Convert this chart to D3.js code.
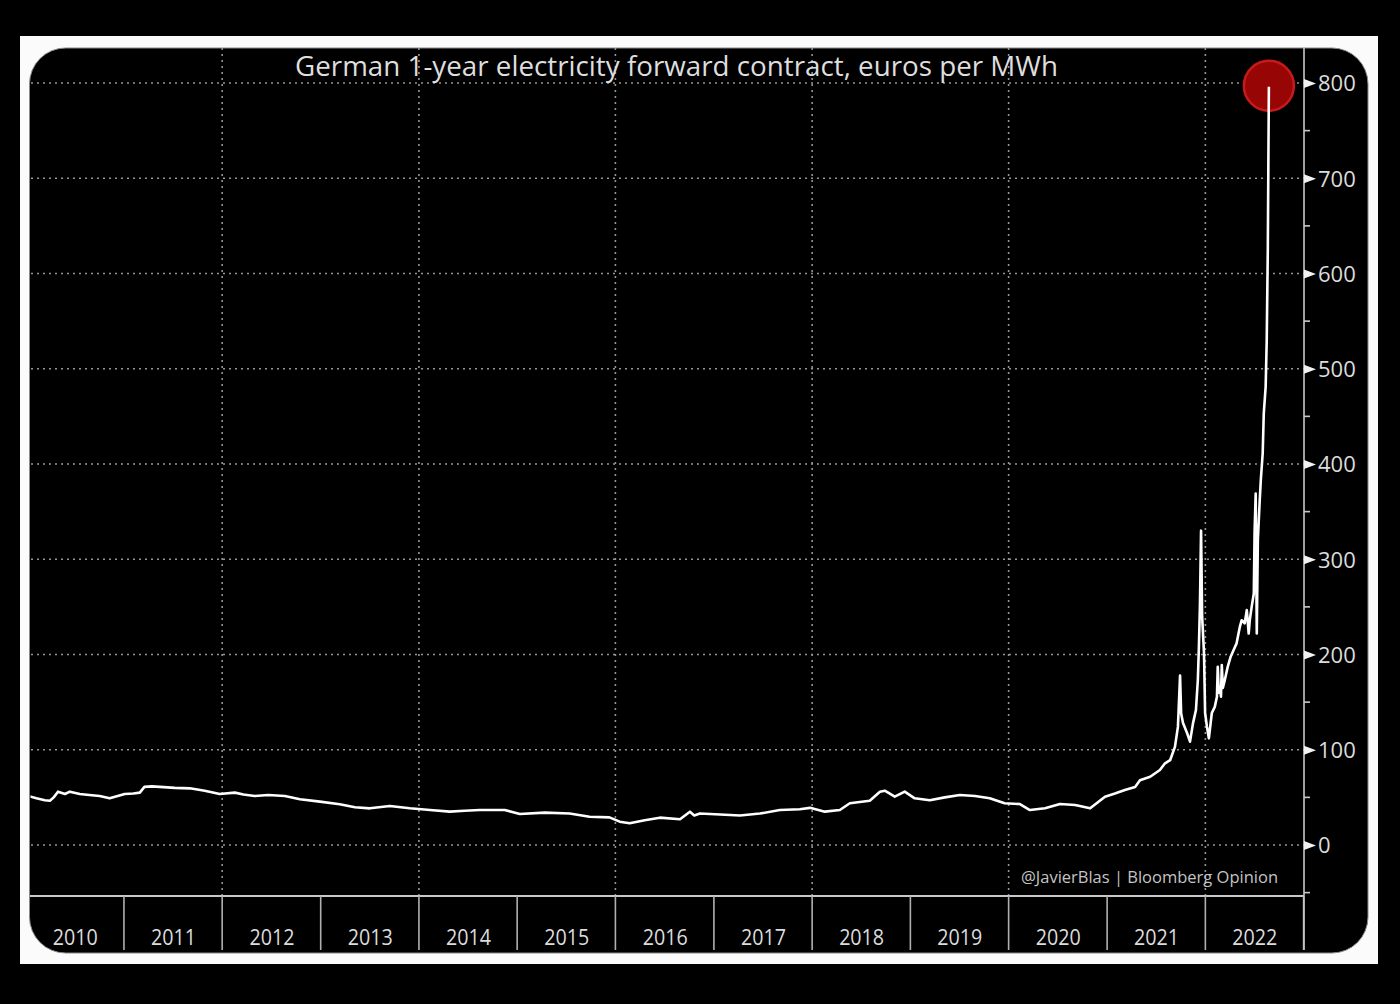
<!DOCTYPE html>
<html>
<head>
<meta charset="utf-8">
<script src="https://cdn.jsdelivr.net/npm/d3@7"></script>
<style>
  html, body { margin: 0; padding: 0; background: #000; }
  svg { display: block; }
</style>
</head>
<body>
<svg id="chart" width="1400" height="1004"></svg>
<script>
// ---------------- DATA ----------------
const titleText = "German 1-year electricity forward contract, euros per MWh";
const creditText = "@JavierBlas | Bloomberg Opinion";
const yearLabels = ["2010","2011","2012","2013","2014","2015","2016","2017","2018","2019","2020","2021","2022"];
const yTickValues = [0, 100, 200, 300, 400, 500, 600, 700, 800];
const yMinorTicks = [-50, 50, 150, 250, 350, 450, 550, 650, 750];
const gridYears = ["2012","2014","2016","2018","2020","2022"];

const dates = [
  "2010-01-04","2010-01-16","2010-02-10","2010-03-13","2010-04-01","2010-04-15","2010-05-01","2010-05-27",
  "2010-06-14","2010-07-21","2010-08-25","2010-10-03","2010-11-09","2011-01-04","2011-02-05","2011-03-01",
  "2011-03-18","2011-04-15","2011-05-14","2011-07-09","2011-09-03","2011-10-28","2011-12-23","2012-02-17",
  "2012-03-20","2012-05-01","2012-06-20","2012-08-21","2012-10-16","2012-12-29","2013-03-13","2013-05-08",
  "2013-07-03","2013-09-15","2013-11-28","2014-02-11","2014-04-26","2014-06-20","2014-08-15","2014-11-16",
  "2015-01-11","2015-04-14","2015-07-15","2015-09-27","2015-12-10","2016-01-17","2016-02-23","2016-04-19",
  "2016-06-14","2016-08-28","2016-10-04","2016-10-20","2016-11-10","2017-01-24","2017-04-08","2017-06-21",
  "2017-09-03","2017-11-16","2017-12-24","2018-02-17","2018-04-14","2018-05-21","2018-08-03","2018-09-10",
  "2018-09-28","2018-11-04","2018-12-11","2019-01-17","2019-03-14","2019-05-09","2019-07-04","2019-08-29",
  "2019-10-23","2019-12-17","2020-02-12","2020-03-20","2020-05-15","2020-07-10","2020-09-04","2020-10-30",
  "2020-12-24","2021-01-30","2021-03-08","2021-04-15","2021-05-03","2021-06-10","2021-07-16","2021-08-04",
  "2021-08-23","2021-09-10","2021-09-21","2021-09-29","2021-10-03","2021-10-10","2021-10-25","2021-11-05",
  "2021-11-16","2021-11-27","2021-12-04","2021-12-08","2021-12-12","2021-12-16","2021-12-20","2021-12-27",
  "2021-12-31","2022-01-07","2022-01-14","2022-01-25","2022-02-05","2022-02-13","2022-02-16","2022-02-20",
  "2022-02-24","2022-02-28","2022-03-03","2022-03-07","2022-03-14","2022-03-25","2022-04-05","2022-04-16",
  "2022-04-27","2022-05-09","2022-05-16","2022-05-27","2022-06-04","2022-06-11","2022-06-15","2022-06-22",
  "2022-06-30","2022-07-03","2022-07-07","2022-07-11","2022-07-15","2022-07-22","2022-07-26","2022-08-02",
  "2022-08-06","2022-08-13","2022-08-17","2022-08-21","2022-08-23","2022-08-25"
];
const values = [
  51, 51, 49, 47, 46.5, 50, 56, 53.5,
  56, 53.5, 52.5, 51.5, 49, 53.5, 54, 55,
  61, 61.5, 61, 60, 59.5, 57, 53.5, 55,
  53, 51.5, 52.5, 51.5, 48, 45.5, 42.7, 39.6,
  38.5, 41, 38.5, 36.7, 35, 36, 36.7, 36.7,
  32.5, 34, 33, 29.7, 29, 24.5, 22.8, 26,
  28.7, 27, 35, 31, 33, 32, 31, 33,
  36.7, 37.5, 39, 35, 36.7, 43.8, 46.5, 56,
  57, 50.7, 56, 49, 47, 50, 52.5, 51.5,
  49, 43.8, 43, 36.7, 38.5, 43, 42, 38.5,
  50.7, 54, 57.7, 61, 68, 71.7, 78.7, 85.8,
  89, 103, 124, 178, 138, 128, 117.6, 108.5,
  127.7, 141.7, 173, 208, 254, 330, 240, 201,
  138.6, 124, 112, 138.6, 145, 155.7, 187, 160,
  166, 155.7, 189, 165, 173, 187, 197.7, 204.7,
  211.7, 229, 236, 232.7, 246.7, 222, 236, 250,
  264, 330, 369, 222, 320, 362, 383, 411,
  453, 481, 530, 625, 712, 796
];

// ---------------- CHART ----------------
const svg = d3.select("#chart");
const parse = d3.timeParse("%Y-%m-%d");
const series = dates.map((d, i) => ({ date: parse(d), value: values[i] }));

const panel = { x: 29.5, y: 48, w: 1338.5, h: 905, r: 36 };
const plotRight = 1304, plotBottom = 896, bandBottom = 950;

const x = d3.scaleTime()
  .domain([new Date(2010, 0, 1), new Date(2023, 0, 1)])
  .range([25.7, 1303.6]);
const y = d3.scaleLinear().domain([0, 800]).range([845, 83]);

// outer black + white frame
svg.append("rect").attr("width", 1400).attr("height", 1004).attr("fill", "#000");
svg.append("rect").attr("x", 20).attr("y", 36).attr("width", 1358).attr("height", 928).attr("fill", "#fbfbfb");
svg.append("rect")
  .attr("x", panel.x).attr("y", panel.y).attr("width", panel.w).attr("height", panel.h)
  .attr("rx", panel.r).attr("ry", panel.r)
  .attr("fill", "#000").attr("stroke", "#8a8a8a").attr("stroke-width", 1);

const defs = svg.append("defs");
defs.append("clipPath").attr("id", "plotClip")
  .append("rect").attr("x", 30.5).attr("y", panel.y).attr("width", plotRight - 30.5).attr("height", plotBottom - panel.y);

const gridColor = "#959595";
// horizontal dotted grid
svg.append("g").selectAll("line").data(yTickValues).join("line")
  .attr("x1", 31).attr("x2", plotRight)
  .attr("y1", d => y(d)).attr("y2", d => y(d))
  .attr("stroke", gridColor).attr("stroke-width", 1.6).attr("stroke-dasharray", "2,4");
// vertical dotted grid (every other year)
svg.append("g").selectAll("line").data(gridYears).join("line")
  .attr("x1", d => x(new Date(+d, 0, 1))).attr("x2", d => x(new Date(+d, 0, 1)))
  .attr("y1", panel.y).attr("y2", plotBottom)
  .attr("stroke", gridColor).attr("stroke-width", 1.6).attr("stroke-dasharray", "2,4");

// title
svg.append("text")
  .attr("x", 676.5).attr("y", 76)
  .attr("text-anchor", "middle")
  .attr("font-family", "'Open Sans', 'DejaVu Sans', sans-serif")
  .attr("font-size", 28)
  .attr("fill", "#dedede")
  .attr("textLength", 763).attr("lengthAdjust", "spacingAndGlyphs")
  .text(titleText);

// highlight circle
const last = series[series.length - 1];
svg.append("circle")
  .attr("cx", x(last.date)).attr("cy", y(last.value) - 1)
  .attr("r", 25)
  .attr("fill", "#980505").attr("stroke", "#c81a1a").attr("stroke-width", 2.5);

// line
svg.append("path")
  .datum(series)
  .attr("clip-path", "url(#plotClip)")
  .attr("fill", "none")
  .attr("stroke", "#ffffff")
  .attr("stroke-width", 2.6)
  .attr("stroke-linejoin", "round")
  .attr("d", d3.line().x(d => x(d.date)).y(d => y(d.value)));

// credit
svg.append("text")
  .attr("x", 1021).attr("y", 883)
  .attr("font-family", "'Open Sans', 'DejaVu Sans', sans-serif")
  .attr("font-size", 17)
  .attr("fill", "#c4c4c4")
  .attr("textLength", 257).attr("lengthAdjust", "spacingAndGlyphs")
  .text(creditText);

// bottom axis band
const axisColor = "#c8c8c8";
svg.append("line")
  .attr("x1", 30).attr("x2", plotRight).attr("y1", plotBottom).attr("y2", plotBottom)
  .attr("stroke", axisColor).attr("stroke-width", 1.8);
const yearStarts = yearLabels.slice(1).map(d => new Date(+d, 0, 1)).concat([new Date(2023, 0, 1)]);
svg.append("g").selectAll("line").data(yearStarts).join("line")
  .attr("x1", d => x(d)).attr("x2", d => x(d))
  .attr("y1", plotBottom).attr("y2", bandBottom)
  .attr("stroke", "#b0b0b0").attr("stroke-width", 1.6);

const xAxis = d3.axisBottom(x)
  .tickValues(yearLabels.map(d => new Date(+d, 6, 2)))
  .tickSize(0)
  .tickFormat(d3.timeFormat("%Y"));
const gx = svg.append("g").attr("transform", `translate(0, ${plotBottom})`).call(xAxis);
gx.select(".domain").remove();
gx.selectAll("text")
  .attr("y", 0).attr("dy", 0)
  .attr("transform", "translate(0, 49)")
  .attr("font-family", "'Open Sans', 'DejaVu Sans', sans-serif")
  .attr("font-size", 22)
  .attr("fill", "#dcdcdc")
  .attr("textLength", 45).attr("lengthAdjust", "spacingAndGlyphs");

// right y axis
svg.append("line")
  .attr("x1", plotRight).attr("x2", plotRight).attr("y1", panel.y).attr("y2", bandBottom)
  .attr("stroke", axisColor).attr("stroke-width", 1.6);

svg.append("g").selectAll("line").data(yMinorTicks).join("line")
  .attr("x1", plotRight).attr("x2", plotRight + 6)
  .attr("y1", d => y(d)).attr("y2", d => y(d))
  .attr("stroke", axisColor).attr("stroke-width", 1.6);

const yAxis = d3.axisRight(y).tickValues(yTickValues).tickSize(0).tickPadding(0);
const gy = svg.append("g").attr("transform", `translate(${plotRight}, 0)`).call(yAxis);
gy.select(".domain").remove();
gy.selectAll(".tick").append("path")
  .attr("d", "M0,-4.5 L12,0 L0,4.5 Z")
  .attr("fill", "#f2f2f2");
gy.selectAll("text")
  .attr("x", 14).attr("dy", "0.36em")
  .attr("font-family", "'Open Sans', 'DejaVu Sans', sans-serif")
  .attr("font-size", 22)
  .attr("fill", "#dcdcdc")
  .attr("text-anchor", "start");
</script>
</body>
</html>
